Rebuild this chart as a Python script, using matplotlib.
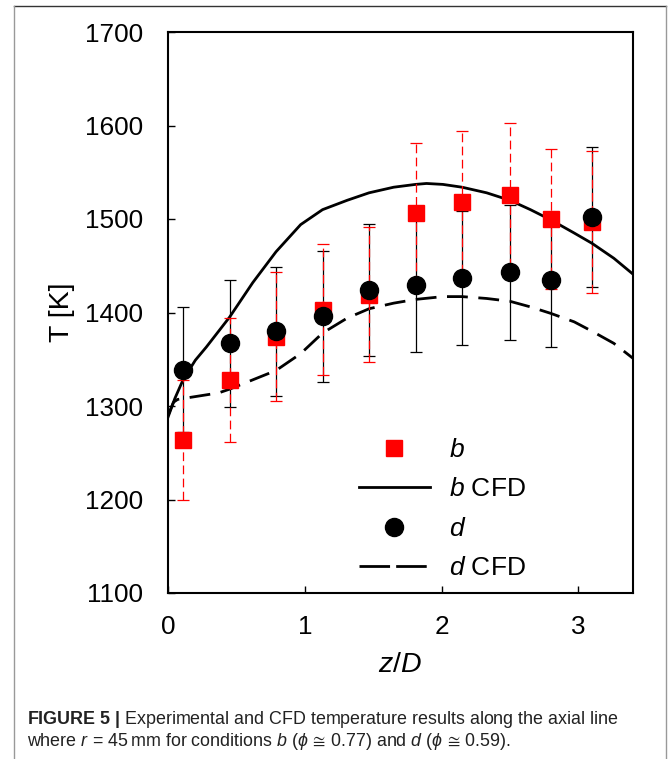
"""Axial temperature along r = 45 mm: experiment (b, d) vs CFD."""
import matplotlib

matplotlib.use("Agg")
import matplotlib.pyplot as plt
from matplotlib.lines import Line2D

# experimental points (same axial stations for both conditions)
z_exp = [0.11, 0.45, 0.79, 1.13, 1.47, 1.81, 2.15, 2.50, 2.80, 3.10]
T_b = [1264, 1328, 1374, 1403, 1419, 1506, 1518, 1526, 1500, 1497]
err_b = [64, 66, 69, 70, 72, 75, 76, 77, 75, 76]
T_d = [1339, 1367, 1380, 1396, 1424, 1429, 1437, 1443, 1435, 1502]
err_d = [67, 68, 69, 70, 71, 71, 72, 72, 72, 75]

# CFD profiles
z_cfd_b = [0.0, 0.05, 0.11, 0.2, 0.28, 0.45, 0.62, 0.79, 0.97, 1.13, 1.31, 1.47, 1.65,
           1.81, 1.89, 2.01, 2.15, 2.33, 2.5, 2.65, 2.8, 2.97, 3.1, 3.26, 3.4]
T_cfd_b = [1288, 1308, 1328, 1349, 1363, 1395, 1432, 1465, 1494, 1510, 1520, 1528, 1534,
           1537, 1538, 1537, 1534, 1528, 1520, 1510, 1499, 1485, 1474, 1458, 1441]
z_cfd_d = [0.0, 0.04, 0.07, 0.11, 0.37, 0.45, 0.62, 0.79, 0.97, 1.13, 1.31, 1.47, 1.65,
           1.81, 2.01, 2.15, 2.33, 2.5, 2.65, 2.8, 2.97, 3.1, 3.26, 3.4]
T_cfd_d = [1290, 1304, 1307, 1308, 1314, 1318, 1328, 1338, 1356, 1378, 1394, 1404, 1410,
           1414, 1417, 1417, 1415, 1412, 1406, 1399, 1390, 1380, 1367, 1351]

plt.rcParams["font.family"] = ["Liberation Sans", "DejaVu Sans"]
plt.rcParams["mathtext.fontset"] = "custom"
plt.rcParams["mathtext.rm"] = "Liberation Sans"
plt.rcParams["mathtext.it"] = "Liberation Sans:italic"
plt.rcParams["mathtext.bf"] = "Liberation Sans:bold"

fig = plt.figure(figsize=(6.69, 7.59), dpi=100)
ax = fig.add_axes([168 / 669, 1 - 593 / 759, 465 / 669, 561 / 759])

lw = 2.0
ax.plot(z_cfd_b, T_cfd_b, color="black", lw=lw, zorder=1)
ax.plot(z_cfd_d, T_cfd_d, color="black", lw=lw, dashes=(7.5, 3.8), zorder=1)

eb_d = ax.errorbar(z_exp, T_d, yerr=err_d, fmt="none", ecolor="black", elinewidth=0.9,
                   capsize=4.3, capthick=0.9, zorder=2)
eb_b = ax.errorbar(z_exp, T_b, yerr=err_b, fmt="none", ecolor="red", elinewidth=0.9,
                   capsize=4.3, capthick=0.9, zorder=2.5)
eb_b[2][0].set_linestyle((0, (7, 3.5)))

ax.plot(z_exp, T_b, ls="none", marker="s", ms=11.5, color="red", mec="red", zorder=3)
ax.plot(z_exp, T_d, ls="none", marker="o", ms=13, color="black", zorder=4)

ax.set_xlim(0, 3.4)
ax.set_ylim(1100, 1700)
ax.set_xticks([0, 1, 2, 3])
ax.set_yticks(range(1100, 1701, 100))
ax.tick_params(axis="both", direction="in", length=5, width=1, labelsize=18.8)
ax.tick_params(axis="y", pad=18)
ax.tick_params(axis="x", pad=16)
for sp in ax.spines.values():
    sp.set_linewidth(1.5)

ax.set_ylabel("T [K]", fontsize=20.5)
ax.yaxis.set_label_coords(-0.2, 0.5)
ax.set_xlabel("$z/D$", fontsize=20.5)
ax.xaxis.set_label_coords(0.5, -0.105)

handles = [
    Line2D([], [], ls="none", marker="s", ms=11.5, color="red"),
    Line2D([], [], color="black", lw=lw),
    Line2D([], [], ls="none", marker="o", ms=13, color="black"),
    Line2D([], [], color="black", lw=lw, dashes=(11, 2.2)),
]
labels = ["$b$", "$b$ CFD", "$d$", "$d$ CFD"]
ax.legend(handles, labels, loc="upper left", bbox_to_anchor=(0.41, 0.276), frameon=False,
          fontsize=19, handlelength=2.7, handletextpad=0.72, labelspacing=0.58,
          borderpad=0, borderaxespad=0)

# journal figure frame + caption
fig.add_artist(Line2D([13.5 / 669, 666 / 669], [1 - 6 / 759] * 2, color="#333333", lw=1,
                      transform=fig.transFigure))
for xf in (13.5 / 669, 666 / 669):
    fig.add_artist(Line2D([xf, xf], [-0.01, 1 - 6 / 759], color="#999999", lw=1,
                          transform=fig.transFigure))
cap_size = 12.9
fig.text(27 / 669, 1 - 724 / 759,
         r"$\mathbf{FIGURE\ 5\ |}$ Experimental and CFD temperature results along the axial line",
         fontsize=cap_size, va="baseline", color="#222222")
fig.text(27 / 669, 1 - 746 / 759,
         r"where $r\,=\,45\,$mm for conditions $b$ ($\phi\,\cong\,0.77$) and $d$ ($\phi\,\cong\,0.59$).",
         fontsize=cap_size, va="baseline", color="#222222")

fig.savefig("out.png", dpi=100)
